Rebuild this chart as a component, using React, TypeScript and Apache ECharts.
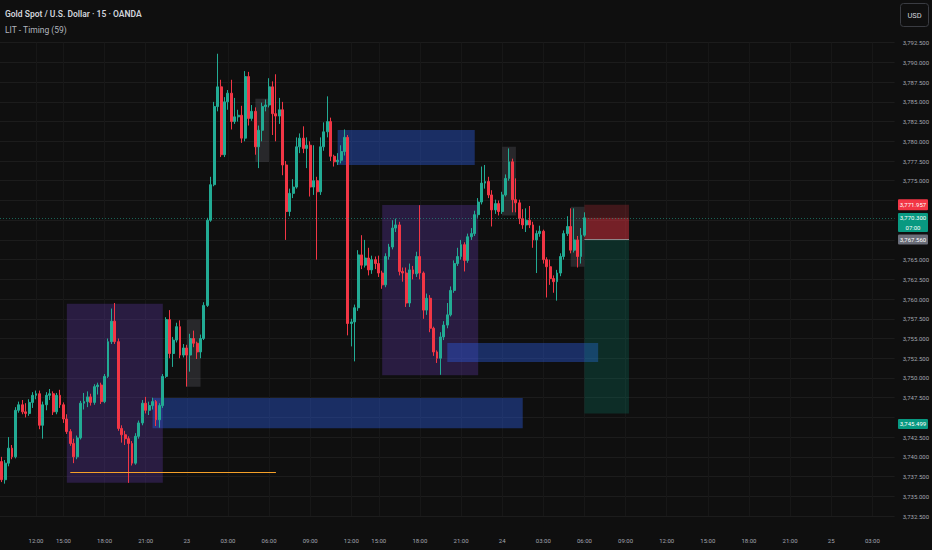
import React, { useEffect, useRef } from "react";
import * as echarts from "echarts";

// bar index 0 = 22 Sep 12:00 (15-minute bars)
const FIRST_INDEX = -10;
const LAST_AXIS_INDEX = 250;

// [open, close, low, high]
const candlesSep22: number[][] = [
  [3739.4, 3737.1, 3736.8, 3740.0], [3737.1, 3739.2, 3736.6, 3739.6], [3739.2, 3741.1, 3738.8, 3742.5],
  [3741.1, 3740.0, 3739.7, 3741.5], [3740.0, 3745.9, 3739.8, 3746.3], [3745.9, 3746.6, 3745.6, 3747.0],
  [3746.6, 3745.7, 3745.4, 3747.2], [3745.7, 3745.5, 3745.0, 3746.8], [3745.5, 3746.9, 3745.2, 3747.3],
  [3746.9, 3747.8, 3746.2, 3748.2], [3747.8, 3748.0, 3747.3, 3748.4], [3748.0, 3744.0, 3743.5, 3748.4],
  [3744.0, 3746.6, 3742.3, 3747.0], [3746.6, 3747.8, 3745.9, 3748.2], [3747.8, 3748.0, 3747.2, 3748.6],
  [3748.0, 3745.7, 3745.3, 3748.3], [3745.7, 3747.8, 3745.4, 3748.1], [3747.8, 3746.6, 3746.2, 3748.5],
  [3746.6, 3744.8, 3744.3, 3746.9], [3744.8, 3743.2, 3742.9, 3745.4], [3743.2, 3741.7, 3741.4, 3743.5],
  [3741.7, 3740.0, 3739.2, 3742.3], [3740.0, 3742.4, 3739.7, 3742.7], [3742.4, 3746.8, 3742.2, 3747.1],
  [3746.8, 3747.0, 3746.0, 3748.1], [3747.0, 3747.6, 3746.3, 3748.3], [3747.6, 3746.9, 3746.5, 3748.0],
  [3746.9, 3748.9, 3746.6, 3749.2], [3748.9, 3749.1, 3747.9, 3749.4], [3749.1, 3747.0, 3746.7, 3749.4],
  [3747.0, 3750.2, 3746.8, 3750.5], [3750.2, 3754.6, 3750.0, 3755.0], [3754.6, 3757.2, 3754.3, 3758.8],
  [3757.2, 3754.6, 3754.3, 3759.5], [3754.6, 3743.6, 3743.3, 3755.0], [3743.6, 3742.8, 3741.8, 3744.0],
  [3742.8, 3742.3, 3741.5, 3743.3], [3742.3, 3741.7, 3736.7, 3742.6], [3741.7, 3739.2, 3738.9, 3742.0],
  [3739.2, 3742.6, 3739.0, 3743.0], [3742.6, 3744.3, 3742.3, 3744.6], [3744.3, 3746.8, 3744.0, 3747.2],
  [3746.8, 3745.9, 3745.5, 3747.6], [3745.9, 3746.5, 3745.3, 3747.0], [3746.5, 3747.0, 3746.0, 3747.5],
  [3747.0, 3744.7, 3743.9, 3747.2], [3744.7, 3746.5, 3743.7, 3746.8], [3746.5, 3750.2, 3746.2, 3750.5],
  [3750.2, 3757.4, 3750.0, 3757.7], [3757.4, 3753.1, 3752.5, 3758.6], [3753.1, 3754.8, 3751.4, 3755.2],
  [3754.8, 3756.5, 3754.5, 3757.0], [3756.5, 3752.9, 3752.5, 3757.3], [3752.9, 3753.8, 3752.6, 3754.3],
];

const candlesSep23: number[][] = [
  [3753.8, 3752.9, 3748.9, 3754.2], [3752.9, 3755.0, 3750.8, 3755.6], [3755.0, 3754.4, 3753.9, 3756.0],
  [3754.4, 3753.3, 3752.4, 3754.6], [3753.3, 3755.0, 3752.5, 3755.5], [3755.0, 3759.2, 3754.8, 3759.6],
  [3759.2, 3770.0, 3759.0, 3770.3], [3770.0, 3774.5, 3769.8, 3775.5], [3774.5, 3784.4, 3774.3, 3785.0],
  [3784.4, 3786.9, 3783.8, 3791.1], [3786.9, 3778.3, 3778.0, 3787.8], [3778.3, 3785.0, 3778.0, 3785.6],
  [3785.0, 3786.1, 3784.0, 3786.5], [3786.1, 3782.5, 3781.5, 3787.8], [3782.5, 3783.1, 3782.2, 3785.5],
  [3783.1, 3783.3, 3782.5, 3784.0], [3783.3, 3780.4, 3779.8, 3784.5], [3780.4, 3788.2, 3780.0, 3788.9],
  [3788.2, 3782.9, 3782.0, 3788.8], [3782.9, 3783.8, 3782.6, 3784.6], [3783.8, 3779.3, 3778.3, 3784.3],
  [3779.3, 3781.4, 3776.6, 3782.0], [3781.4, 3784.4, 3780.0, 3784.9], [3784.4, 3784.6, 3783.8, 3785.3],
  [3784.6, 3786.9, 3784.3, 3788.0], [3786.9, 3783.5, 3780.8, 3787.6], [3783.5, 3783.2, 3780.0, 3788.5],
  [3783.2, 3784.0, 3782.2, 3785.5], [3784.0, 3777.0, 3775.7, 3785.0], [3777.0, 3771.1, 3767.5, 3777.5],
  [3771.1, 3773.4, 3770.5, 3774.0], [3773.4, 3774.2, 3772.8, 3775.2], [3774.2, 3779.3, 3774.0, 3780.5],
  [3779.3, 3780.4, 3778.5, 3781.0], [3780.4, 3779.1, 3778.5, 3781.9], [3779.1, 3779.5, 3776.6, 3780.5],
  [3779.5, 3774.2, 3773.0, 3780.0], [3774.2, 3775.0, 3773.2, 3779.5], [3775.0, 3773.6, 3765.0, 3775.5],
  [3773.6, 3779.3, 3773.2, 3780.5], [3779.3, 3781.2, 3778.8, 3782.4], [3781.2, 3782.5, 3780.5, 3785.7],
  [3782.5, 3778.1, 3777.5, 3783.0], [3778.1, 3777.4, 3776.8, 3778.3], [3777.4, 3777.6, 3777.0, 3778.5],
  [3777.6, 3778.7, 3777.2, 3779.5], [3778.7, 3780.5, 3778.2, 3781.5], [3780.5, 3756.9, 3755.4, 3780.8],
  [3756.9, 3757.1, 3754.0, 3757.5], [3757.1, 3758.9, 3752.1, 3759.3], [3758.9, 3765.6, 3758.5, 3766.2],
  [3765.6, 3764.3, 3763.8, 3768.1], [3764.3, 3765.2, 3764.0, 3767.5], [3765.2, 3763.7, 3763.0, 3766.5],
  [3763.7, 3765.0, 3763.2, 3765.5], [3765.0, 3764.5, 3763.8, 3765.4], [3764.5, 3763.3, 3762.8, 3765.5],
  [3763.3, 3761.8, 3761.3, 3763.6], [3761.8, 3765.4, 3761.5, 3765.8], [3765.4, 3766.6, 3765.0, 3767.0],
  [3766.6, 3769.0, 3766.3, 3770.0], [3769.0, 3769.4, 3768.5, 3770.2], [3769.4, 3763.5, 3763.0, 3769.8],
  [3763.5, 3763.3, 3762.2, 3764.0], [3763.3, 3759.5, 3759.0, 3764.0], [3759.5, 3763.7, 3759.0, 3764.5],
  [3763.7, 3763.2, 3762.5, 3764.2], [3763.2, 3765.4, 3762.8, 3766.0], [3765.4, 3763.3, 3762.5, 3771.9],
  [3763.3, 3758.6, 3757.5, 3763.5], [3758.6, 3760.1, 3758.0, 3760.7], [3760.1, 3756.3, 3755.8, 3760.5],
  [3756.3, 3753.3, 3752.8, 3756.5], [3753.3, 3752.5, 3751.9, 3753.5], [3752.5, 3755.2, 3750.4, 3755.8],
  [3755.2, 3756.7, 3754.8, 3757.2], [3756.7, 3758.0, 3756.3, 3759.5], [3758.0, 3761.1, 3757.8, 3761.6],
  [3761.1, 3764.5, 3760.8, 3764.9], [3764.5, 3765.4, 3764.2, 3766.5], [3765.4, 3766.9, 3765.0, 3767.5],
  [3766.9, 3764.9, 3763.5, 3767.2], [3764.9, 3767.9, 3764.6, 3768.3], [3767.9, 3768.3, 3767.5, 3769.0],
  [3768.3, 3770.7, 3768.0, 3771.2], [3770.7, 3772.3, 3770.3, 3772.8], [3772.3, 3774.7, 3772.0, 3776.8],
  [3774.7, 3774.9, 3774.0, 3777.0], [3774.9, 3773.2, 3772.8, 3775.5], [3773.2, 3771.3, 3769.2, 3773.8],
  [3771.3, 3772.1, 3770.8, 3772.6], [3772.1, 3771.1, 3770.6, 3772.5],
];

const candlesSep24: number[][] = [
  [3771.1, 3773.2, 3770.8, 3773.6], [3773.2, 3775.3, 3773.0, 3775.8], [3775.3, 3777.4, 3775.0, 3779.1],
  [3777.4, 3772.6, 3771.0, 3777.8], [3772.6, 3772.2, 3771.0, 3775.3], [3772.2, 3770.2, 3769.5, 3772.6],
  [3770.2, 3769.4, 3768.9, 3771.4], [3769.4, 3770.0, 3768.5, 3771.5], [3770.0, 3769.4, 3769.0, 3771.8],
  [3769.4, 3767.5, 3766.5, 3769.8], [3767.5, 3768.3, 3763.3, 3768.7], [3768.3, 3768.6, 3767.9, 3769.3],
  [3768.6, 3765.0, 3764.5, 3768.8], [3765.0, 3764.1, 3760.2, 3765.3], [3764.1, 3762.6, 3761.8, 3765.0],
  [3762.6, 3762.2, 3760.8, 3763.0], [3762.2, 3763.3, 3759.8, 3763.7], [3763.3, 3765.4, 3762.9, 3765.8],
  [3765.4, 3768.3, 3765.0, 3768.7], [3768.3, 3769.2, 3768.0, 3770.5], [3769.2, 3766.2, 3765.8, 3771.5],
  [3766.2, 3767.5, 3765.9, 3771.5], [3767.5, 3765.4, 3764.0, 3768.0], [3765.4, 3768.1, 3764.5, 3769.0],
  [3768.1, 3770.3, 3767.9, 3771.0],
];

const timeTickIndex = [0, 8, 20, 32, 44, 56, 68, 80, 92, 100, 112, 124, 136, 148, 160, 172, 184, 196, 208, 220, 232, 244];
const timeTickLabels = ["12:00", "15:00", "18:00", "21:00", "23", "03:00", "06:00", "09:00", "12:00", "15:00", "18:00", "21:00", "24", "03:00", "06:00", "09:00", "12:00", "15:00", "18:00", "21:00", "25", "03:00"];

// [fromIndex, toIndex, lowPrice, highPrice]
const purpleZones = [[9, 37, 3736.7, 3759.4], [101, 129, 3750.35, 3771.93]];
const blueZones = [[88, 128, 3777.0, 3781.44], [34, 142, 3743.63, 3747.47], [120, 164, 3752.03, 3754.44]];
const greyZones = [[44, 48, 3748.9, 3757.4], [64, 68, 3777.4, 3785.4], [136, 140, 3770.6, 3779.3], [156, 160, 3764.1, 3771.7]];
const orangeLevel = [10, 70, 3738.05];
const positionRange = [160, 173];
const positionTarget = 3745.499;
const positionEntry = 3767.56;
const positionStop = 3771.957;
const lastPrice = 3770.3;
const barCountdown = "07:00";
// price-scale ticks covered by the price tags
const hiddenPriceTicks = [3772.5, 3770, 3767.5, 3745];

const UP = "#22ab94";
const DOWN = "#f23645";
const BG = "#0f0f0f";
const FONT = "Roboto, 'Noto Sans', sans-serif";

function fmtPrice(v: number): string {
  return v.toLocaleString("en-US", { minimumFractionDigits: 3, maximumFractionDigits: 3 });
}

export default function App() {
  const ref = useRef<HTMLDivElement>(null);

  useEffect(() => {
    if (!ref.current) return;
    const chart = echarts.init(ref.current, null, { renderer: "svg" });

    const names: string[] = [];
    for (let i = FIRST_INDEX; i <= LAST_AXIS_INDEX; i++) names.push(String(i));
    const candles = [...candlesSep22, ...candlesSep23, ...candlesSep24];
    const tickMap = new Map<number, string>();
    timeTickIndex.forEach((idx, k) => tickMap.set(idx, timeTickLabels[k]));

    const zoneItems = (zones: number[][], color: string) =>
      zones.map((z) => [
        { xAxis: String(z[0]), yAxis: z[3], itemStyle: { color } },
        { xAxis: String(z[1]), yAxis: z[2] },
      ]);

    const option: any = {
      animation: false,
      backgroundColor: BG,
      grid: { left: 0, right: 36.8, top: 42.7, bottom: 34 },
      xAxis: {
        type: "category",
        data: names,
        boundaryGap: true,
        axisLine: { show: false },
        axisTick: { show: false },
        splitLine: { show: false },
        axisLabel: {
          interval: (index: number) => tickMap.has(index + FIRST_INDEX),
          formatter: (v: string) => tickMap.get(Number(v)) || "",
          color: "#a3a6af",
          fontSize: 6,
          fontFamily: FONT,
          margin: 21,
        },
      },
      yAxis: {
        type: "value",
        position: "right",
        min: 3732.5,
        max: 3792.5,
        interval: 2.5,
        axisLine: { show: false },
        axisTick: { show: false },
        splitLine: { lineStyle: { color: "#1c1c1c", width: 1 } },
        axisLabel: {
          formatter: (v: number) => (hiddenPriceTicks.includes(v) ? "" : fmtPrice(v)),
          color: "#a3a6af",
          fontSize: 6,
          fontFamily: FONT,
          margin: 8,
        },
      },
      series: [
        {
          type: "line",
          name: "grid",
          data: [],
          z: 0,
          silent: true,
          markLine: {
            z: 0,
            silent: true,
            symbol: ["none", "none"],
            label: { show: false },
            lineStyle: { color: "#171717", width: 1, type: "solid" },
            data: timeTickIndex.map((idx) => ({ xAxis: String(idx) })),
          },
        },
        {
          type: "candlestick",
          name: "XAUUSD",
          data: candles,
          z: 2,
          barWidth: "70%",
          itemStyle: { color: UP, color0: DOWN, borderColor: UP, borderColor0: DOWN, borderWidth: 1 },
        },
        {
          type: "line",
          name: "drawings",
          data: [],
          z: 3,
          silent: true,
          markArea: {
            z: 1,
            silent: true,
            data: [
              ...zoneItems(purpleZones, "rgba(103, 58, 183, 0.3)"),
              ...zoneItems(blueZones, "rgba(44, 90, 220, 0.42)"),
              ...zoneItems(greyZones, "rgba(130, 133, 144, 0.22)"),
              [
                { xAxis: String(positionRange[0]), yAxis: positionStop, itemStyle: { color: "rgba(242, 54, 69, 0.22)" } },
                { xAxis: String(positionRange[1]), yAxis: lastPrice },
              ],
              [
                { xAxis: String(positionRange[0]), yAxis: lastPrice, itemStyle: { color: "rgba(242, 54, 69, 0.45)" } },
                { xAxis: String(positionRange[1]), yAxis: positionEntry },
              ],
              [
                { xAxis: String(positionRange[0]), yAxis: positionEntry, itemStyle: { color: "rgba(8, 153, 129, 0.22)" } },
                { xAxis: String(positionRange[1]), yAxis: positionTarget },
              ],
            ],
          },
          markLine: {
            z: 5,
            silent: true,
            symbol: ["none", "none"],
            label: { show: false },
            data: [
              [
                { coord: [String(orangeLevel[0]), orangeLevel[2]], lineStyle: { color: "#f5a028", width: 1, type: "solid" } },
                { coord: [String(orangeLevel[1]), orangeLevel[2]] },
              ],
              [
                { coord: [String(positionRange[0]), positionEntry], lineStyle: { color: "rgba(200,200,205,0.6)", width: 1, type: "solid" } },
                { coord: [String(positionRange[1]), positionEntry] },
              ],
              { yAxis: lastPrice, lineStyle: { color: "rgba(34,171,148,0.55)", width: 1, type: [1, 2] } },
            ],
          },
        },
      ],
    };

    chart.setOption(option);

    const py = (p: number) => chart.convertToPixel({ yAxisIndex: 0 }, p) as number;
    const tagX = 898;
    const tagW = 30;
    const tag = (y: number, h: number, color: string, lines: string[]) => {
      const children: any[] = [
        { type: "rect", shape: { x: tagX, y: y - h / 2, width: tagW, height: h, r: 1 }, style: { fill: color } },
      ];
      const lh = h / lines.length;
      lines.forEach((t, k) => {
        children.push({
          type: "text",
          x: tagX + tagW / 2,
          y: y - h / 2 + lh * k + lh / 2,
          style: { text: t, fill: "#ffffff", font: `6px ${FONT}`, align: "center", verticalAlign: "middle" },
        });
      });
      return { type: "group", z: 50, children };
    };

    const yStop = py(positionStop);
    const yLast = py(lastPrice);
    const yEntry = py(positionEntry);
    const yTarget = py(positionTarget);

    chart.setOption({
      graphic: [
        {
          type: "text",
          left: 5,
          top: 9,
          style: { text: "Gold Spot / U.S. Dollar · 15 · OANDA", fill: "#d1d4dc", font: `600 8.5px ${FONT}` },
        },
        {
          type: "text",
          left: 5,
          top: 25,
          style: { text: "LIT - Timing (59)", fill: "#b2b5be", font: `8.5px ${FONT}` },
        },
        {
          type: "group",
          children: [
            { type: "rect", shape: { x: 900.5, y: 3.5, width: 28, height: 23, r: 3 }, style: { fill: "none", stroke: "#3a3c42", lineWidth: 1 } },
            { type: "text", x: 914.5, y: 15, style: { text: "USD", fill: "#d1d4dc", font: `7.5px ${FONT}`, align: "center", verticalAlign: "middle" } },
          ],
        },
        tag(yStop, 11, "#f23645", [fmtPrice(positionStop)]),
        tag(yLast + 4.7, 19, "#089981", [fmtPrice(lastPrice), barCountdown]),
        tag(yEntry, 10, "#6a6d78", [fmtPrice(positionEntry)]),
        tag(yTarget + 10.5, 10, "#089981", [fmtPrice(positionTarget)]),
      ],
    });

    return () => chart.dispose();
  }, []);

  return (
    <div
      ref={ref}
      style={{ position: "fixed", left: 0, top: 0, width: 932, height: 550, background: BG }}
    />
  );
}
